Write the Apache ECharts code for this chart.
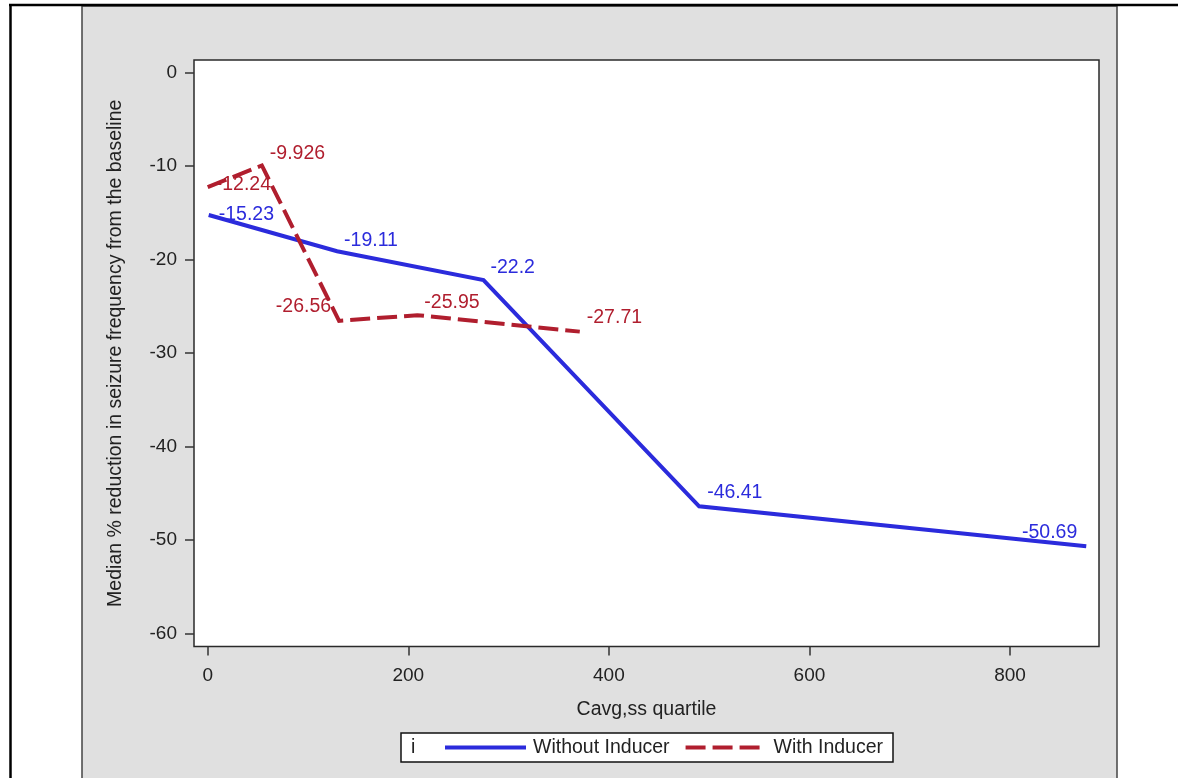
<!DOCTYPE html>
<html>
<head>
<meta charset="utf-8">
<script src="https://cdn.jsdelivr.net/npm/echarts@6/dist/echarts.min.js"></script>
<style>
  html, body { margin: 0; padding: 0; background: #fff; }
  #chart { width: 1178px; height: 778px; }
</style>
</head>
<body>
<div id="chart"></div>
<script>
// ---- data ----
const xTicks = [0, 200, 400, 600, 800];
const yTicks = [0, -10, -20, -30, -40, -50, -60];
const seriesNames = ['Without Inducer', 'With Inducer'];
const withoutX = [1, 129, 275, 490, 876];
const withoutY = [-15.23, -19.11, -22.2, -46.41, -50.69];
const withX = [0, 54, 131, 209, 371];
const withY = [-12.24, -9.926, -26.56, -25.95, -27.71];
const xTitle = 'Cavg,ss quartile';
const yTitle = 'Median % reduction in seizure frequency from the baseline';

// ---- label placement (style only) ----
const withoutLabelPos = [
  { dx: 10, dy: 0, align: 'left' },
  { dx: 7, dy: -11, align: 'left' },
  { dx: 7, dy: -12.5, align: 'left' },
  { dx: 8, dy: -14, align: 'left' },
  { dx: -9, dy: -14, align: 'right' }
];
const withLabelPos = [
  { dx: 8, dy: -2, align: 'left' },
  { dx: 8, dy: -12, align: 'left' },
  { dx: -8, dy: -14, align: 'right' },
  { dx: 7, dy: -13, align: 'left' },
  { dx: 7, dy: -14, align: 'left' }
];

const BLUE = '#2b2bdc';
const RED = '#b01e2e';
const TXT = '#222';
const FS = 19.5;

function buildData(xs, ys, pos, color) {
  return xs.map((x, i) => ({
    value: [x, ys[i]],
    label: {
      show: true,
      position: [pos[i].dx, pos[i].dy],
      align: pos[i].align,
      verticalAlign: 'middle',
      color: color,
      fontSize: FS,
      fontFamily: 'Liberation Sans, Arial, sans-serif',
      formatter: String(ys[i])
    }
  }));
}

const chart = echarts.init(document.getElementById('chart'), null, { renderer: 'canvas' });
chart.setOption({
  animation: false,
  backgroundColor: '#ffffff',
  textStyle: { fontFamily: 'Liberation Sans, Arial, sans-serif' },
  graphic: [
    { type: 'rect', z: -10, shape: { x: 82, y: 6, width: 1035, height: 780 }, style: { fill: '#e0e0e0', stroke: '#444', lineWidth: 1.5 } },
    { type: 'line', z: -9, shape: { x1: 9, y1: 5, x2: 1178, y2: 5 }, style: { stroke: '#000', lineWidth: 2.5 } },
    { type: 'line', z: -9, shape: { x1: 10.5, y1: 4, x2: 10.5, y2: 778 }, style: { stroke: '#000', lineWidth: 2.5 } },
    { type: 'rect', z: 1, shape: { x: 401, y: 733, width: 492, height: 29 }, style: { fill: '#fff', stroke: '#111', lineWidth: 1.5 } },
    { type: 'text', z: 2, x: 411, y: 747.5, style: { text: 'i', fill: TXT, fontSize: FS, fontFamily: 'Liberation Sans, Arial, sans-serif', verticalAlign: 'middle', align: 'left' } }
  ],
  grid: {
    left: 194, top: 60, width: 905, height: 586.5,
    show: true, backgroundColor: '#ffffff', borderColor: '#2a2a2a', borderWidth: 1.5
  },
  legend: {
    data: seriesNames,
    left: 443, top: 737.5,
    padding: 0,
    itemWidth: 81, itemHeight: 20, itemGap: 14,
    itemStyle: { opacity: 0 },
    lineStyle: { width: 4, cap: 'butt' },
    textStyle: { fontSize: FS, color: TXT, lineHeight: 20, padding: [0, 0, 0, 2] }
  },
  xAxis: {
    type: 'value',
    min: -13.66, max: 888.7,
    name: xTitle, nameLocation: 'middle', nameGap: 53,
    nameTextStyle: { fontSize: FS, color: TXT },
    axisLine: { show: false, onZero: false },
    axisTick: { show: true, length: 9, lineStyle: { color: '#333', width: 1.5 }, customValues: xTicks },
    axisLabel: { fontSize: 19, color: TXT, margin: 20, customValues: xTicks },
    splitLine: { show: false }
  },
  yAxis: {
    type: 'value',
    min: -61.41, max: 1.36,
    name: yTitle, nameLocation: 'middle', nameGap: 68,
    nameTextStyle: { fontSize: FS, color: TXT },
    axisLine: { show: false, onZero: false },
    axisTick: { show: true, length: 9, lineStyle: { color: '#333', width: 1.5 }, customValues: yTicks },
    axisLabel: { fontSize: 19, color: TXT, margin: 17, customValues: yTicks },
    splitLine: { show: false }
  },
  series: [
    {
      name: seriesNames[0], type: 'line',
      symbol: 'circle', symbolSize: 0,
      itemStyle: { color: BLUE },
      lineStyle: { color: BLUE, width: 4, cap: 'butt', join: 'miter' },
      data: buildData(withoutX, withoutY, withoutLabelPos, BLUE),
      z: 2
    },
    {
      name: seriesNames[1], type: 'line',
      symbol: 'circle', symbolSize: 0,
      itemStyle: { color: RED },
      lineStyle: { color: RED, width: 4, type: [20, 7], cap: 'butt', join: 'miter' },
      data: buildData(withX, withY, withLabelPos, RED),
      z: 3
    }
  ]
});
</script>
</body>
</html>
